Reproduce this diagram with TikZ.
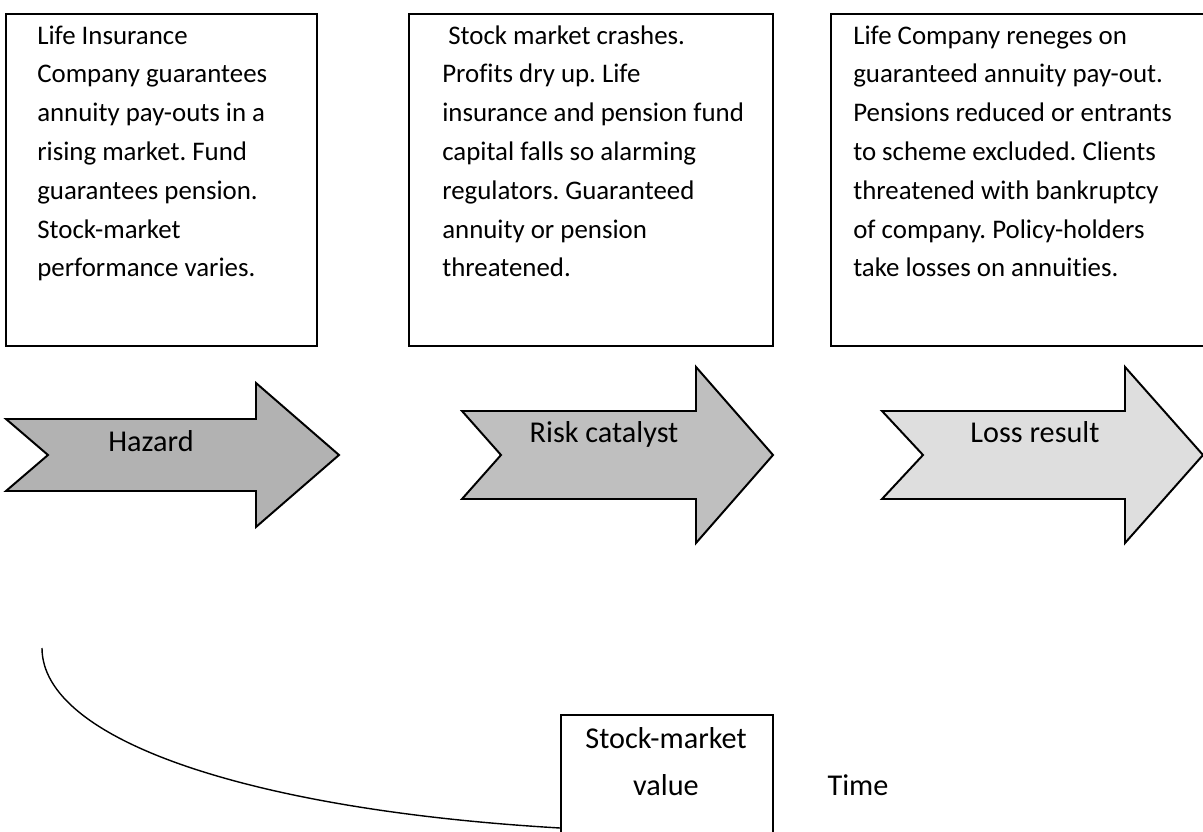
\documentclass[tikz,border=0pt]{standalone}
\usepackage{fontspec}
\setmainfont{Carlito}[Ligatures = CommonOff]
\frenchspacing

\begin{document}
\begin{tikzpicture}[
    x = 0.025cm, y = -0.025cm,
    every node/.style = {font = \fontsize{19.1}{27.6}\selectfont},
    eventbox/.style = {draw, line width = 1.4pt, anchor = north west, minimum height = 8.3cm},
    boxtext/.style = {align = left, inner sep = 0pt, anchor = base west},
    shaft/.style = {draw, line width = 1.4pt, line join = miter},
    tag/.style = {inner sep = 0pt, anchor = base, font = \fontsize{21.5}{30}\selectfont}]

\useasboundingbox (0,0) rectangle (1203,832);
\clip (0,0) rectangle (1203,832);

% three stages, boxes along the top
\node[eventbox, minimum width = 7.775cm] (hazardbox) at (5,13) {};
\node[eventbox, minimum width = 9.1cm]   (catalystbox) at (408,13) {};
\node[eventbox, minimum width = 9.625cm] (lossbox) at (830,13) {};

% (base sits on the last line of each text)
\node[boxtext] (hazardtext) at (37,277) {Life Insurance\\
  Company guarantees\\ annuity pay-outs in a\\ rising market. Fund\\
  guarantees pension.\\ Stock-market\\ performance varies.};
\node[boxtext] (catalysttext) at (442,277) {\ Stock market crashes.\\
  Profits dry up. Life\\ insurance and pension fund\\ capital falls so alarming\\
  regulators. Guaranteed\\ annuity or pension\\ threatened.};
\node[boxtext] (losstext) at (853,277) {Life Company reneges on\\
  guaranteed annuity pay-out.\\ Pensions reduced or entrants\\
  to scheme excluded. Clients\\ threatened with bankruptcy\\
  of company. Policy-holders\\ take losses on annuities.};

% block arrows
\filldraw[shaft, fill = black!30] (6,419) -- (256,419) -- (256,383) -- (339,455)
  -- (256,527) -- (256,491) -- (6,491) -- (48,455) -- cycle;
\filldraw[shaft, fill = black!25] (462,411) -- (696,411) -- (696,367) -- (773,455)
  -- (696,543) -- (696,499) -- (462,499) -- (501,455) -- cycle;
\filldraw[shaft, fill = black!13] (882,411) -- (1125,411) -- (1125,367) -- (1203,455)
  -- (1125,543) -- (1125,499) -- (882,499) -- (923,455) -- cycle;

\node[tag] (hazard) at (151,452) {Hazard};
\node[tag] (catalyst) at (604,443) {Risk catalyst};
\node[tag] (loss) at (1035,443) {Loss result};

% market curve
\node[eventbox, minimum width = 5.3cm, minimum height = 3.5cm] (stockbox) at (560,714) {};
\node[tag, align = center] (stocktext) at (666,795) {Stock-market\\[3pt] value};
\node[tag] (time) at (858,795) {Time};

\coordinate (curvetop) at (42,648);
\coordinate (curveend) at (560,828);
\draw[line width = 1pt] (curvetop) .. controls (42,740) and (250,810) .. (curveend);

\end{tikzpicture}
\end{document}
